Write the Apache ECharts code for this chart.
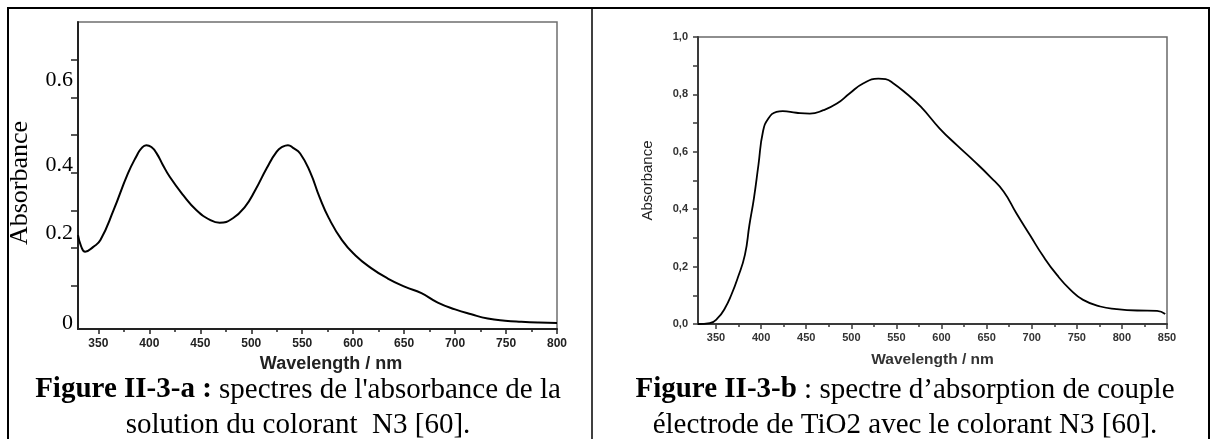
<!DOCTYPE html>
<html><head><meta charset="utf-8">
<script src="https://cdn.jsdelivr.net/npm/echarts@6/dist/echarts.min.js"></script>
<style>html,body{margin:0;padding:0;background:#fff}#c{width:1217px;height:439px}</style>
</head><body><div id="c"></div>
<script>
// ---- Figure II-3-a : N3 dye in solution ----
const waveA = [330, 333, 337, 345, 352, 365, 379, 388, 392, 397, 402, 407, 413, 420, 433, 446, 460, 469, 482, 494, 504, 515, 525, 531, 536, 541, 548, 558, 567, 576, 589, 602, 618, 634, 651, 667, 683, 700, 716, 732, 749, 765, 782, 800];
const absA  = [0.234, 0.205, 0.190, 0.203, 0.221, 0.301, 0.398, 0.447, 0.464, 0.473, 0.468, 0.452, 0.422, 0.389, 0.341, 0.301, 0.274, 0.267, 0.279, 0.310, 0.354, 0.411, 0.456, 0.469, 0.473, 0.466, 0.451, 0.400, 0.335, 0.280, 0.221, 0.181, 0.146, 0.119, 0.097, 0.080, 0.055, 0.037, 0.024, 0.013, 0.007, 0.004, 0.002, 0.001];
// ---- Figure II-3-b : TiO2 electrode + N3 ----
const waveB = [330, 343, 352, 360, 367, 374, 382, 387, 392, 397, 402, 408, 417, 424, 439, 454, 469, 484, 498, 513, 530, 538, 546, 561, 577, 598, 617, 635, 654, 669, 683, 698, 713, 728, 743, 757, 776, 794, 817, 839, 848];
const absB  = [0.000, 0.003, 0.021, 0.056, 0.102, 0.160, 0.241, 0.345, 0.438, 0.554, 0.670, 0.716, 0.739, 0.742, 0.736, 0.733, 0.745, 0.768, 0.803, 0.838, 0.855, 0.853, 0.840, 0.803, 0.757, 0.681, 0.623, 0.571, 0.513, 0.461, 0.386, 0.310, 0.235, 0.171, 0.119, 0.084, 0.061, 0.052, 0.047, 0.046, 0.035];

const xMajorA = [350, 400, 450, 500, 550, 600, 650, 700, 750, 800];
const xMinorA = [375, 425, 475, 525, 575, 625, 675, 725, 775];
const yTicksA = [0.1, 0.2, 0.3, 0.4, 0.5, 0.6, 0.7];
const yLabelsA = [0, 0.2, 0.4, 0.6];
const xMajorB = [350, 400, 450, 500, 550, 600, 650, 700, 750, 800, 850];
const xMinorB = [375, 425, 475, 525, 575, 625, 675, 725, 775, 825];

const captionA1 = "{b|Figure II-3-a :} spectres de l'absorbance de la";
const captionA2 = "solution du colorant  N3 [60].";
const captionB1 = "{b|Figure II-3-b} : spectre d\u2019absorption de couple";
const captionB2 = "électrode de TiO2 avec le colorant N3 [60].";

const serif = "'Liberation Serif','Times New Roman',serif";
const sans = "'Liberation Sans',Arial,sans-serif";
const narrow = "'Liberation Sans Narrow','Arial Narrow','Liberation Sans',sans-serif";

const chart = echarts.init(document.getElementById('c'), null, {renderer: 'canvas'});

function tickLabel(color, size) {
  return {fontFamily: sans, fontWeight: 'bold', fontSize: size, color: color};
}
const yLabStyle = {fontFamily: serif, fontSize: 22, color: '#000'};

const option = {
  animation: false,
  backgroundColor: '#fff',
  grid: [
    {left: 78, top: 22, width: 479, height: 307, show: true, borderColor: '#6f6f6f', borderWidth: 1.5},
    {left: 698, top: 37, width: 469, height: 287, show: true, borderColor: '#6a6a6a', borderWidth: 1.5}
  ],
  xAxis: [
    {gridIndex: 0, type: 'value', min: 330, max: 800, position: 'bottom',
     axisLine: {onZero: false, lineStyle: {color: '#222', width: 2}},
     axisTick: {customValues: xMajorA, length: 5, lineStyle: {color: '#222', width: 1.5}},
     axisLabel: Object.assign({customValues: xMajorA, margin: 9}, tickLabel('#222', 12)),
     splitLine: {show: false},
     name: 'Wavelength / nm', nameLocation: 'middle', nameGap: 23,
     nameTextStyle: {fontFamily: sans, fontWeight: 'bold', fontSize: 18, color: '#222', padding: [0, 0, 0, 27]}},
    {gridIndex: 0, type: 'value', min: 330, max: 800, position: 'bottom',
     axisLine: {show: false, onZero: false},
     axisTick: {customValues: xMinorA, length: 3, lineStyle: {color: '#222', width: 1.5}},
     axisLabel: {show: false}, splitLine: {show: false}},
    {gridIndex: 1, type: 'value', min: 330, max: 850, position: 'bottom',
     axisLine: {onZero: false, lineStyle: {color: '#3a3a3a', width: 2}},
     axisTick: {customValues: xMajorB, length: 5, lineStyle: {color: '#3a3a3a', width: 1.5}},
     axisLabel: Object.assign({customValues: xMajorB, margin: 8}, tickLabel('#333', 11)),
     splitLine: {show: false},
     name: 'Wavelength / nm', nameLocation: 'middle', nameGap: 28,
     nameTextStyle: {fontFamily: sans, fontWeight: 'bold', fontSize: 15.5, color: '#333'}},
    {gridIndex: 1, type: 'value', min: 330, max: 850, position: 'bottom',
     axisLine: {show: false, onZero: false},
     axisTick: {customValues: xMinorB, length: 3, lineStyle: {color: '#3a3a3a', width: 1.5}},
     axisLabel: {show: false}, splitLine: {show: false}}
  ],
  yAxis: [
    {gridIndex: 0, type: 'value', min: -0.015, max: 0.8,
     axisLine: {show: true, onZero: false, lineStyle: {color: '#222', width: 2}},
     axisTick: {show: true, customValues: yTicksA, length: 7, lineStyle: {color: '#222', width: 1.5}},
     axisLabel: {customValues: yLabelsA, margin: 5,
       fontFamily: serif, fontSize: 22, color: '#000',
       formatter: v => {
         const k = Math.round(v * 10);
         return k === 0 ? '{z|0}' : '{p' + k + '|' + v.toFixed(1) + '}';
       },
       rich: {
         z: Object.assign({}, yLabStyle),
         p2: Object.assign({padding: [0, 0, 29, 0]}, yLabStyle),
         p4: Object.assign({padding: [0, 0, 15, 0]}, yLabStyle),
         p6: Object.assign({padding: [0, 0, 34, 0]}, yLabStyle)
       }},
     splitLine: {show: false},
     name: 'Absorbance', nameLocation: 'middle', nameGap: 45, nameRotate: 90,
     nameTextStyle: {fontFamily: serif, fontSize: 26, color: '#000', padding: [0, 15, 0, 0]}},
    {gridIndex: 1, type: 'value', min: 0, max: 1, interval: 0.1,
     axisLine: {show: true, onZero: false, lineStyle: {color: '#3a3a3a', width: 2}},
     axisTick: {show: true, length: 5, lineStyle: {color: '#3a3a3a', width: 1.5}},
     axisLabel: Object.assign({margin: 10,
       formatter: v => (Math.round(v * 10) % 2 === 0 ? v.toFixed(1).replace('.', ',') : '')}, tickLabel('#333', 11)),
     splitLine: {show: false},
     name: 'Absorbance', nameLocation: 'middle', nameGap: 43, nameRotate: 90,
     nameTextStyle: {fontFamily: narrow, fontSize: 15, color: '#222'}}
  ],
  series: [
    {type: 'line', xAxisIndex: 0, yAxisIndex: 0, showSymbol: false, smooth: 0.5,
     data: waveA.map((w, i) => [w, absA[i]]), lineStyle: {color: '#000', width: 2}},
    {type: 'line', xAxisIndex: 2, yAxisIndex: 1, showSymbol: false, smooth: 0.5,
     data: waveB.map((w, i) => [w, absB[i]]), lineStyle: {color: '#000', width: 1.8}}
  ],
  graphic: [
    {type: 'line', shape: {x1: 7, y1: 8, x2: 1210, y2: 8}, style: {stroke: '#000', lineWidth: 2}},
    {type: 'line', shape: {x1: 8, y1: 7, x2: 8, y2: 439}, style: {stroke: '#000', lineWidth: 2}},
    {type: 'line', shape: {x1: 592, y1: 7, x2: 592, y2: 439}, style: {stroke: '#000', lineWidth: 1.5}},
    {type: 'line', shape: {x1: 1209, y1: 7, x2: 1209, y2: 439}, style: {stroke: '#000', lineWidth: 2}},
    {type: 'text', x: 298, y: 390, style: {text: captionA1, fontFamily: serif, fontSize: 29, fill: '#000', align: 'center', verticalAlign: 'middle',
      rich: {b: {fontFamily: serif, fontSize: 29, fontWeight: 'bold', fill: '#000'}}}},
    {type: 'text', x: 298, y: 425, style: {text: captionA2, fontFamily: serif, fontSize: 29, fill: '#000', align: 'center', verticalAlign: 'middle'}},
    {type: 'text', x: 905, y: 390, style: {text: captionB1, fontFamily: serif, fontSize: 29, fill: '#000', align: 'center', verticalAlign: 'middle',
      rich: {b: {fontFamily: serif, fontSize: 29, fontWeight: 'bold', fill: '#000'}}}},
    {type: 'text', x: 905, y: 425, style: {text: captionB2, fontFamily: serif, fontSize: 29, fill: '#000', align: 'center', verticalAlign: 'middle'}}
  ]
};
chart.setOption(option);
</script>
</body></html>
